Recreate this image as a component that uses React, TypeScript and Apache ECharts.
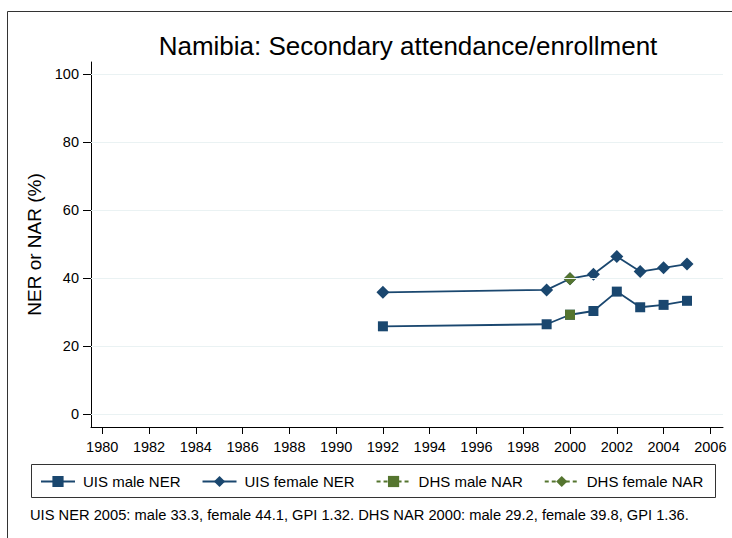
import React, { useEffect, useRef } from "react";
import * as echarts from "echarts";

const titleText = "Namibia: Secondary attendance/enrollment";
const yAxisTitle = "NER or NAR (%)";
const noteText =
  "UIS NER 2005: male 33.3, female 44.1, GPI 1.32. DHS NAR 2000: male 29.2, female 39.8, GPI 1.36.";

const xTicks = [1980, 1982, 1984, 1986, 1988, 1990, 1992, 1994, 1996, 1998, 2000, 2002, 2004, 2006];
const yTicks = [0, 20, 40, 60, 80, 100];

const uisYears = [1992, 1999, 2000, 2001, 2002, 2003, 2004, 2005];
const uisMale = [25.8, 26.4, 29.2, 30.3, 36.0, 31.4, 32.1, 33.3];
const uisFemale = [35.8, 36.5, 39.8, 41.1, 46.3, 41.9, 43.0, 44.1];
const dhsYears = [2000];
const dhsMale = [29.2];
const dhsFemale = [39.8];

const NAVY = "#1a476f";
const GREEN = "#55752f";
const GRID = "#eaf2f3";
const FONT = "'Liberation Sans', Arial, Helvetica, sans-serif";

function pairs(xs: number[], ys: number[]) {
  return xs.map((x, i) => [x, ys[i]]);
}

export default function App() {
  const ref = useRef<HTMLDivElement>(null);
  useEffect(() => {
    if (!ref.current) return;
    const chart = echarts.init(ref.current, undefined, { renderer: "svg" });
    chart.setOption({
      animation: false,
      backgroundColor: "#ffffff",
      textStyle: { fontFamily: FONT },
      title: {
        text: titleText,
        left: 403,
        top: 28,
        textAlign: "center",
        textStyle: { fontFamily: FONT, fontSize: 26, fontWeight: "normal", color: "#000" },
      },
      grid: { left: 91, top: 62, right: 9, bottom: 111, containLabel: false },
      xAxis: {
        type: "value",
        min: 1979.52,
        max: 2006.54,
        axisLine: { show: true, onZero: false, lineStyle: { color: "#000", width: 1 } },
        axisTick: {
          show: true,
          length: 7,
          customValues: xTicks,
          lineStyle: { color: "#000" },
        },
        axisLabel: {
          customValues: xTicks,
          formatter: (v: number) => String(v),
          fontSize: 14.5,
          color: "#000",
          margin: 12,
          fontFamily: FONT,
        },
        splitLine: { show: false },
      },
      yAxis: {
        type: "value",
        min: -3.8,
        max: 103.5,
        name: yAxisTitle,
        nameLocation: "middle",
        nameGap: 44,
        nameRotate: 90,
        nameTextStyle: { fontSize: 19, color: "#000", fontFamily: FONT },
        axisLine: { show: true, onZero: false, lineStyle: { color: "#000", width: 1 } },
        axisTick: {
          show: true,
          length: 8,
          customValues: yTicks,
          lineStyle: { color: "#000" },
        },
        axisLabel: {
          customValues: yTicks,
          formatter: (v: number) => String(v),
          fontSize: 14.5,
          color: "#000",
          margin: 12,
          fontFamily: FONT,
        },
        splitLine: { show: false },
      },
      legend: {
        left: 40,
        top: 474,
        padding: 0,
        itemGap: 21,
        itemWidth: 34,
        itemHeight: 14,
        textStyle: { fontSize: 15, color: "#000", fontFamily: FONT, padding: [0, 0, 0, 3] },
        data: ["UIS male NER", "UIS female NER", "DHS male NAR", "DHS female NAR"],
      },
      graphic: [
        {
          type: "line",
          shape: { x1: 7.5, y1: 11.5, x2: 732, y2: 11.5 },
          style: { stroke: "#333", lineWidth: 1 },
        },
        {
          type: "line",
          shape: { x1: 7.5, y1: 11.5, x2: 7.5, y2: 538 },
          style: { stroke: "#333", lineWidth: 1 },
        },
        {
          type: "rect",
          shape: { x: 31.5, y: 464.5, width: 684, height: 33 },
          style: { fill: "none", stroke: "#333", lineWidth: 1 },
        },
        {
          type: "text",
          left: 30,
          top: 507,
          style: { text: noteText, fontSize: 14.7, fill: "#000", fontFamily: FONT },
        },
      ],
      series: [
        {
          name: "grid",
          type: "line",
          data: [],
          z: 0,
          silent: true,
          markLine: {
            silent: true,
            symbol: "none",
            label: { show: false },
            lineStyle: { color: GRID, type: "solid", width: 1.2 },
            data: yTicks.map((v) => ({ yAxis: v })),
          },
        },
        {
          name: "UIS male NER",
          type: "line",
          data: pairs(uisYears, uisMale),
          symbol: "rect",
          symbolSize: 10,
          z: 3,
          itemStyle: { color: NAVY },
          lineStyle: { color: NAVY, width: 1.8 },
        },
        {
          name: "UIS female NER",
          type: "line",
          data: pairs(uisYears, uisFemale),
          symbol: "diamond",
          symbolSize: 13,
          z: 3,
          itemStyle: { color: NAVY },
          lineStyle: { color: NAVY, width: 1.8 },
        },
        {
          name: "DHS male NAR",
          type: "line",
          data: pairs(dhsYears, dhsMale),
          symbol: "rect",
          symbolSize: 10,
          z: 4,
          itemStyle: { color: GREEN },
          lineStyle: { color: GREEN, width: 1.3, type: [4, 3] },
        },
        {
          name: "DHS female NAR",
          type: "line",
          data: pairs(dhsYears, dhsFemale),
          symbol: "diamond",
          symbolSize: 13,
          z: 4,
          itemStyle: { color: GREEN },
          lineStyle: { color: GREEN, width: 1.3, type: [4, 3] },
        },
      ],
    });
    return () => chart.dispose();
  }, []);
  return (
    <div
      ref={ref}
      style={{ position: "fixed", left: 0, top: 0, width: 732, height: 538 }}
    />
  );
}
